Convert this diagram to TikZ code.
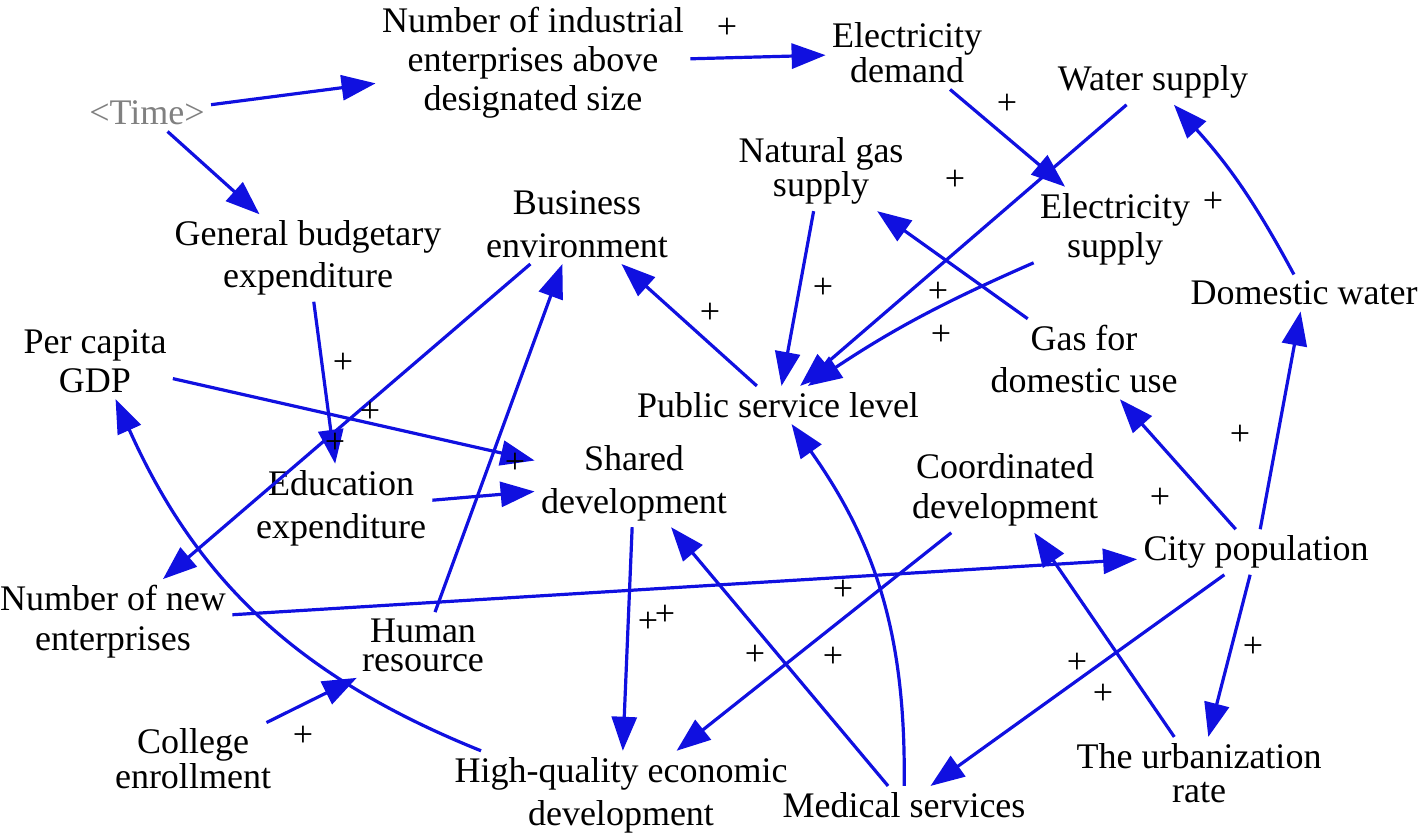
\documentclass[tikz,border=0pt]{standalone}
\usepackage{fontspec}
\setmainfont{Liberation Serif}
\usetikzlibrary{arrows.meta}
\definecolor{arcblue}{RGB}{16,16,224}
\definecolor{timegray}{RGB}{128,128,128}
\tikzset{
  var/.style={align=center, inner sep=3pt, font=\fontsize{18}{#1}\selectfont},
  var/.default=19.5,
  arc/.style={draw=arcblue, line width=1.6pt, -{Triangle[length=17pt,width=12.5pt]}},
  pol/.style={inner sep=0pt, font=\fontsize{18}{18}\selectfont}
}
\begin{document}
\begin{tikzpicture}[x=0.5pt,y=0.5pt]
\useasboundingbox (0,0) rectangle (1421,837);
% variables
\node[var, text=timegray] (time) at (147,724) {<Time>};
\node[var=19.5] (nie) at (533,774) {Number of industrial\\enterprises above\\designated size};
\node[var=14] (ed) at (907,784) {Electricity\\demand};
\node[var] (ws) at (1153,755) {Water supply};
\node[var=14] (ngs) at (821,666) {Natural gas\\supply};
\node[var=19.5] (es) at (1115,608) {Electricity\\supply};
\node[var=21.5] (be) at (577,613) {Business\\environment};
\node[var=21] (gbe) at (308,579) {General budgetary\\expenditure};
\node[var] (dw) at (1304,544) {Domestic water};
\node[var=19.5] (pcg) at (95,476) {Per capita\\GDP};
\node[var=21] (gdu) at (1084,478) {Gas for\\domestic use};
\node[var] (psl) at (778,432) {Public service level};
\node[var=21.5] (sd) at (634,354) {Shared\\development};
\node[var=21.5] (ee) at (341,329) {Education\\expenditure};
\node[var=20] (cd) at (1005,347) {Coordinated\\development};
\node[var] (cp) at (1256,285) {City population};
\node[var=20] (nne) at (113,215) {Number of new\\enterprises};
\node[var=14.5] (hr) at (423,192) {Human\\resource};
\node[var=16] (ce) at (193,78) {College\\enrollment};
\node[var=21.5] (hq) at (621,42) {High-quality economic\\development};
\node[var] (ms) at (904,32) {Medical services};
\node[var=17] (ur) at (1199,64) {The urbanization\\rate};
% connectors
\draw[arc] (time) -- (nie);
\draw[arc] (time) -- (gbe);
\draw[arc] (nie) -- (ed);
\draw[arc] (ed) -- (es);
\draw[arc] (ws) -- (psl);
\draw[arc] (es) to[bend right=5] (psl);
\draw[arc] (ngs) -- (psl);
\draw[arc] (gdu) -- (ngs);
\draw[arc] (psl) -- (be);
\draw[arc] (be) -- (nne);
\draw[arc] (gbe) -- (ee);
\draw[arc] (pcg) -- (sd);
\draw[arc] (ee) -- (sd);
\draw[arc] (hr) -- (be);
\draw[arc] (hq) to[bend left=22] (pcg);
\draw[arc] (nne) -- (cp);
\draw[arc] (ce) -- (hr);
\draw[arc] (sd) -- (hq);
\draw[arc] (cd) -- (hq);
\draw[arc] (ms) -- (sd);
\draw[arc] (ms) to[bend right=18] (psl);
\draw[arc] (ur) -- (cd);
\draw[arc] (cp) -- (gdu);
\draw[arc] (cp) -- (dw);
\draw[arc] (dw) to[bend right=7] (ws);
\draw[arc] (cp) -- (ms);
\draw[arc] (cp) -- (ur);
% polarities
\foreach \i/\p in {1/{727,809},2/{1007,733},3/{955,657},4/{1213,635},5/{823,549},6/{938,545},7/{710,524},8/{941,502},9/{343,474},10/{370,425},11/{335,394},12/{515,374},13/{1240,402},14/{1160,339},15/{843,247},16/{648,215},17/{665,222},18/{755,182},19/{833,180},20/{1253,190},21/{1077,174},22/{1103,143},23/{303,101}}
  \node[pol] (plus\i) at (\p) {+};
\end{tikzpicture}
\end{document}
